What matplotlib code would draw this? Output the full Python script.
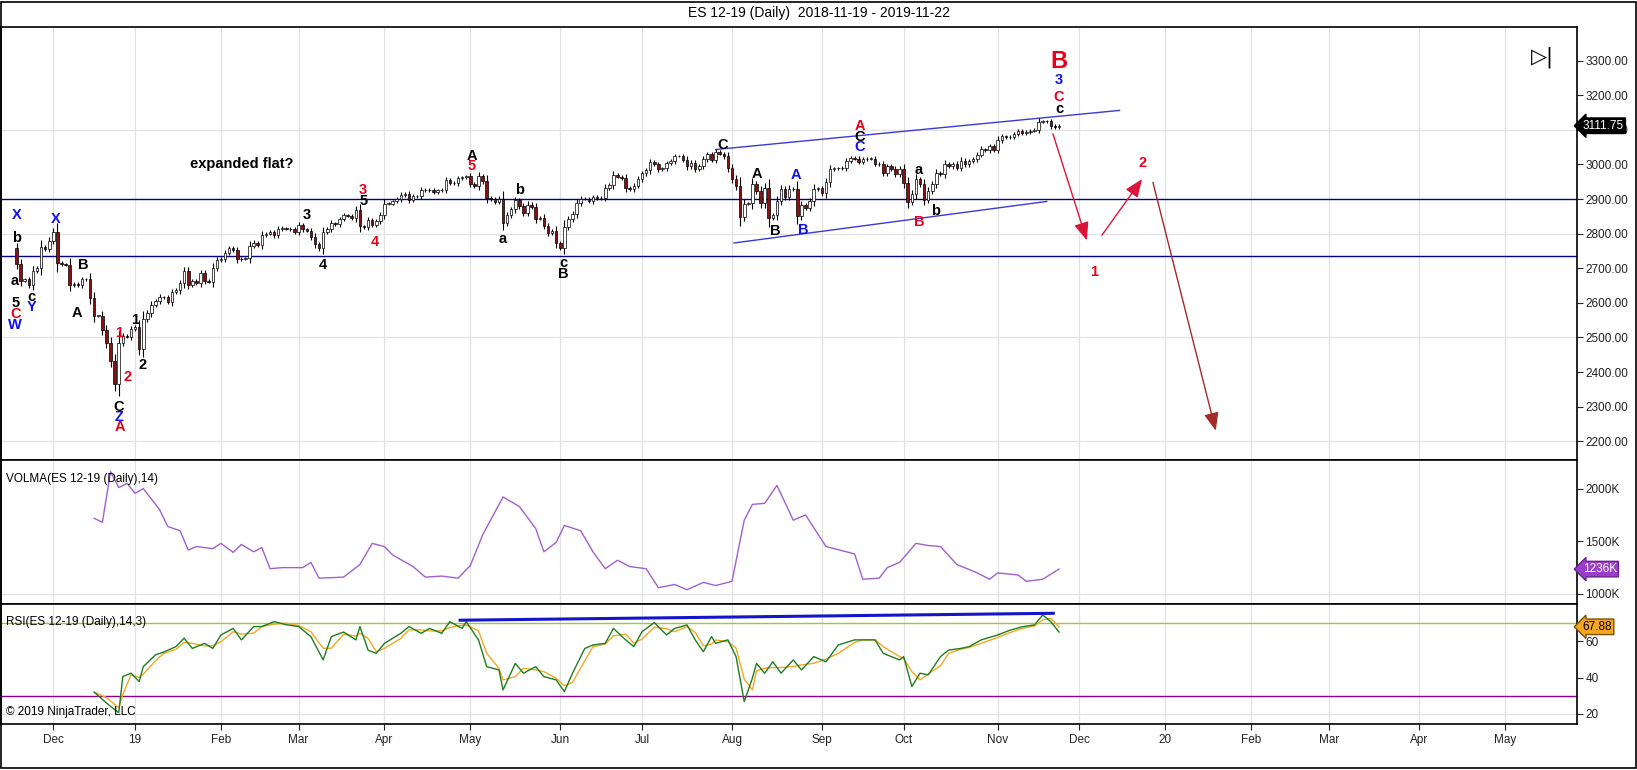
import numpy as np
import pandas as pd
import matplotlib
matplotlib.use("Agg")
import matplotlib.pyplot as plt

plt.rcParams['font.family'] = ['Liberation Sans', 'DejaVu Sans']

# ---- data ----
holidays = ["2018-11-22", "2018-12-25", "2019-01-01", "2019-01-21", "2019-02-18", "2019-04-19",
            "2019-05-27", "2019-07-04", "2019-09-02", "2019-11-28", "2019-12-25", "2020-01-01",
            "2020-01-20", "2020-02-17", "2020-04-10", "2020-05-25"]

closes = [
    # Nov 2018
    2712, 2664, 2668, 2652, 2692, 2700, 2762, 2756, 2780,
    # Dec
    2805, 2715, 2712, 2710, 2652, 2655, 2652, 2668, 2668, 2615, 2562, 2562, 2522, 2484, 2432,
    2365, 2485, 2505, 2502, 2524,
    # Jan 2019
    2530, 2468, 2552, 2570, 2594, 2604, 2617, 2616, 2603, 2630, 2636, 2656, 2691, 2653, 2663,
    2658, 2685, 2664, 2661, 2702, 2724,
    # Feb
    2727, 2745, 2758, 2752, 2726, 2728, 2729, 2765, 2774, 2766, 2796, 2800, 2805, 2795, 2813,
    2816, 2814, 2813, 2804,
    # Mar
    2824, 2812, 2809, 2791, 2769, 2758, 2804, 2812, 2830, 2828, 2842, 2853, 2852, 2844, 2869,
    2821, 2819, 2838, 2825, 2836, 2854,
    # Apr
    2887, 2887, 2893, 2899, 2912, 2915, 2898, 2908, 2908, 2927, 2925, 2927, 2920, 2925, 2927,
    2954, 2947, 2946, 2960, 2963, 2966,
    # May
    2944, 2938, 2966, 2952, 2904, 2900, 2891, 2901, 2832, 2854, 2870, 2896, 2880, 2860, 2884,
    2876, 2843, 2846, 2823, 2803, 2809, 2772,
    # Jun
    2759, 2819, 2841, 2858, 2888, 2901, 2900, 2894, 2906, 2902, 2904, 2932, 2941, 2969, 2965,
    2960, 2932, 2928, 2939, 2957,
    # Jul
    2974, 2983, 3006, 3000, 2986, 2989, 3003, 3010, 3024, 3024, 3014, 2994, 3005, 2987, 2995,
    3015, 3029, 3014, 3036, 3031, 3023, 2990,
    # Aug
    2959, 2937, 2849, 2886, 2888, 2943, 2924, 2888, 2931, 2845, 2853, 2894, 2928, 2906, 2930,
    2928, 2852, 2883, 2874, 2893, 2929, 2931,
    # Sep
    2916, 2948, 2986, 2989, 2989, 2990, 3010, 3019, 3017, 3008, 3015, 3016, 3016, 3002, 3001,
    2976, 2994, 2987, 2971, 2987,
    # Oct
    2945, 2892, 2915, 2957, 2943, 2898, 2924, 2943, 2975, 2971, 3001, 2994, 3002, 2991, 3011,
    3000, 3009, 3015, 3028, 3044, 3041, 3052, 3043,
    # Nov
    3070, 3081, 3078, 3080, 3088, 3096, 3090, 3094, 3097, 3100, 3123, 3125, 3124, 3111, 3107,
    3111.75,
]
first_open = 2758

volma_idx = [19, 21, 23, 25, 27, 29, 31, 35, 37, 40, 42, 44, 48, 50, 53, 55, 58, 60, 62, 65, 70,
             72, 74, 80, 84, 87, 90, 92, 97, 100, 104, 108, 111, 114, 119, 123, 127, 129, 132, 134,
             138, 141, 144, 147, 150, 154, 157, 161, 164, 168, 171, 175, 178, 180, 183, 186, 190,
             193, 198, 205, 207, 211, 213, 216, 220, 223, 226, 230, 235, 238, 240, 245, 247, 251, 255]
volma_val = [1718, 1680, 2161, 2010, 2050, 1955, 2000, 1800, 1640, 1600, 1417, 1450, 1430, 1480,
             1395, 1470, 1400, 1440, 1240, 1250, 1250, 1300, 1150, 1160, 1280, 1480, 1450, 1370,
             1260, 1160, 1170, 1150, 1270, 1560, 1920, 1830, 1620, 1400, 1490, 1650, 1600, 1400,
             1240, 1320, 1260, 1240, 1060, 1090, 1040, 1110, 1080, 1120, 1700, 1850, 1860, 2030,
             1700, 1750, 1450, 1380, 1140, 1150, 1250, 1300, 1480, 1460, 1450, 1280, 1200, 1140,
             1200, 1180, 1120, 1140, 1236]

rsi_idx = [19, 22, 25, 26, 28, 30, 31, 34, 36, 39, 41, 43, 46, 48, 50, 53, 55, 58, 60, 63, 66, 69,
           72, 75, 77, 80, 83, 84, 86, 88, 90, 94, 96, 99, 101, 104, 106, 109, 110, 113, 115, 118,
           119, 122, 124, 127, 129, 132, 134, 136, 139, 141, 144, 146, 149, 151, 153, 156, 159,
           161, 164, 166, 168, 170, 171, 174, 176, 178, 180, 181, 183, 185, 187, 190, 192, 195,
           198, 201, 205, 207, 210, 212, 216, 217, 219, 221, 223, 226, 228, 231, 233, 236, 240,
           243, 246, 249, 251, 253, 255]
rsi_val = [32, 26, 20.7, 40.6, 42.4, 37.8, 46, 52.5, 54, 57, 61.6, 56, 58.8, 56, 63.4, 67, 60.7,
           68, 68, 70.7, 69, 68, 62.5, 49.7, 62.5, 65, 60.7, 68, 55, 53.3, 58.8, 64.3, 68, 64.3,
           67, 64.3, 70.7, 67, 70.7, 60.7, 46, 44.2, 33.2, 47.8, 42.4, 46, 40.5, 38.7, 32.3, 42.4,
           56, 57.9, 58.8, 67, 60.7, 57, 65.2, 70.2, 63.4, 67, 68.9, 60.7, 54.2, 62.5, 58.8, 60.7,
           51.5, 26.8, 39.7, 47.8, 42.4, 48.7, 42.4, 49.7, 44.2, 51.5, 48.7, 57.9, 60.7, 60.7,
           60.7, 53.3, 49.7, 51.5, 35.1, 42.4, 41.5, 51.5, 55.1, 56, 57, 60.7, 63.4, 66, 67.9,
           68.9, 74.4, 70.7, 65]

month_labels = ["Dec", "19", "Feb", "Mar", "Apr", "May", "Jun", "Jul", "Aug", "Sep", "Oct", "Nov",
                "Dec", "20", "Feb", "Mar", "Apr", "May"]

# wave labels: (bar, price, text, colour, size)
K, R, B = "black", "#e8001c", "#1010ee"
wave_labels = [
    (0, 2855, "X", B, 10.5), (0, 2787, "b", K, 10.5), (-0.5, 2662, "a", K, 10.5),
    (-0.3, 2599, "5", K, 10.5), (-0.3, 2567, "C", R, 10.5), (-0.3, 2536, "W", B, 10.5),
    (3.6, 2618, "c", K, 10.5), (3.8, 2589, "Y", B, 10.5), (9.6, 2842, "X", B, 10.5),
    (16.4, 2710, "B", K, 10.5), (14.7, 2570, "A", K, 10.5), (25.1, 2512, "1", R, 10.5),
    (28.9, 2551, "1", K, 10.5), (27.1, 2385, "2", R, 10.5), (30.9, 2420, "2", K, 10.5),
    (25.1, 2300, "C", K, 10.5), (25.1, 2271, "Z", B, 10.5), (25.3, 2240, "A", R, 10.5),
    (70.9, 2855, "3", K, 10.5), (75, 2708, "4", K, 10.5), (84.8, 2925, "3", R, 10.5),
    (84.8, 2893, "5", K, 10.5), (87.7, 2777, "4", R, 10.5), (111.5, 3024, "A", K, 10.5),
    (111.3, 2995, "5", R, 10.5), (119, 2785, "a", K, 10.5), (123, 2925, "b", K, 10.5),
    (133.7, 2715, "c", K, 10.5), (133.7, 2683, "B", K, 10.5),
    (172.8, 3057, "C", K, 10.5), (181, 2972, "A", K, 10.5), (185.5, 2809, "B", K, 10.5),
    (190.7, 2968, "A", B, 10.5), (192.4, 2811, "B", B, 10.5), (206.3, 3110, "A", R, 10.5),
    (206.3, 3079, "C", K, 10.5), (206.3, 3051, "C", B, 10.5), (220.7, 2985, "a", K, 10.5),
    (220.7, 2835, "B", R, 10.5), (224.8, 2864, "b", K, 10.5),
    (255, 3296, "B", R, 17), (255, 3245, "3", B, 10.5), (255, 3195, "C", R, 10.5),
    (255, 3160, "c", K, 10.5),
    (263.7, 2690, "1", R, 10.5), (275.5, 3004, "2", R, 10.5),
]
upper_channel = [(171, 3043), (269.8, 3156)]
lower_channel = [(175.5, 2773), (252, 2893)]
h_levels = [2900, 2735]
arrows = [((253.3, 3096), (262, 2773), "#dc143c"),
          ((265.1, 2789), (275.7, 2964), "#dc143c"),
          ((277.8, 2956), (293.5, 2223), "#a52a2a")]
rsi_trend = [(108.5, 71.5), (253.6, 75.3)]

# ---- dates / bar positions ----
dates = pd.bdate_range("2018-11-19", "2020-06-15")
dates = dates[~dates.isin(pd.to_datetime(holidays))]
n = len(closes)
x = np.arange(n)
opens = np.r_[first_open, closes[:-1]]
closes_a = np.array(closes, dtype=float)
month_pos = [i for i in range(1, len(dates)) if dates[i].month != dates[i - 1].month]

fig = plt.figure(figsize=(16.37, 7.7), dpi=100)
W, H = 1637, 770
def ax_at(top, bot):
    return fig.add_axes([1 / W, 1 - bot / H, 1576 / W, (bot - top) / H])

ax_p = ax_at(27, 460)
ax_v = ax_at(460, 604)
ax_r = ax_at(604, 724)
xmin, xmax = -3.8, 381.7

for ax in (ax_p, ax_v, ax_r):
    ax.set_xlim(xmin, xmax)
    ax.yaxis.tick_right()
    ax.tick_params(axis="y", labelsize=8.5, length=4, pad=2, colors="#222222")
    ax.tick_params(axis="x", length=0, labelbottom=False)
    for s in ax.spines.values():
        s.set_linewidth(1.2)
    for mp in month_pos:
        ax.axvline(mp, color="#e2e2e2", lw=0.9, zorder=0)

# price panel
ax_p.set_ylim(2146, 3397)
ax_p.set_yticks(np.arange(2200, 3301, 100))
ax_p.set_yticklabels([f"{v:.2f}" for v in np.arange(2200, 3301, 100)])
for g in (2200, 2500, 2800, 3100):
    ax_p.axhline(g, color="#e2e2e2", lw=0.9, zorder=0)
for lv in h_levels:
    ax_p.axhline(lv, color="#00008b", lw=1.0, zorder=1)
for xs, ys in (zip(*upper_channel), zip(*lower_channel)):
    ax_p.plot(list(xs), list(ys), color="#3a3ad8", lw=1.0, zorder=1)

for i in range(n):
    o, c = opens[i], closes_a[i]
    hi = max(o, c) + 0.25 * abs(c - o) + 4
    lo = min(o, c) - 0.25 * abs(c - o) - 4
    ax_p.vlines(i, lo, hi, color="black", lw=0.8, zorder=3)
    col = "white" if c >= o else "#8b1010"
    ax_p.bar(i, max(abs(c - o), 1.5), bottom=min(o, c), width=0.62, color=col,
             edgecolor="black", linewidth=0.5, zorder=4)

for bx, py, t, col, fs in wave_labels:
    ax_p.text(bx, py, t, color=col, fontsize=fs, fontweight="bold", ha="center", va="center", zorder=5)
ax_p.text(55, 3002, "expanded flat?", fontsize=10.5, fontweight="bold", ha="center", va="center")

for (x0, y0), (x1, y1), col in arrows:
    ax_p.annotate("", xy=(x1, y1), xytext=(x0, y0),
                  arrowprops=dict(arrowstyle="-|>,head_length=1.1,head_width=0.45", color=col, lw=1.0))

ax_p.text(0.978, 0.93, "▷|", transform=ax_p.transAxes, fontsize=15, ha="center", va="center",
          family=["DejaVu Sans"])
ax_p.annotate(f"{closes[-1]:.2f}", xy=(1.0, closes[-1]), xycoords=("axes fraction", "data"),
              xytext=(4, 0), textcoords="offset points", fontsize=8.5, color="white", va="center",
              bbox=dict(boxstyle="larrow,pad=0.15", fc="black", ec="black"))

# volma panel
ax_v.set_ylim(905, 2271)
ax_v.set_yticks([1000, 1500, 2000])
ax_v.set_yticklabels(["1000K", "1500K", "2000K"])
ax_v.axhline(1000, color="#e2e2e2", lw=0.9, zorder=0)
ax_v.plot(volma_idx, volma_val, color="#a060d0", lw=1.0)
ax_v.text(0.003, 0.87, "VOLMA(ES 12-19 (Daily),14)", transform=ax_v.transAxes, fontsize=8.5,
          family=["Liberation Sans Narrow", "Liberation Sans"], va="center")
ax_v.annotate(f"{volma_val[-1]}K", xy=(1.0, volma_val[-1]), xycoords=("axes fraction", "data"),
              xytext=(4, 0), textcoords="offset points", fontsize=8.5, color="white", va="center",
              bbox=dict(boxstyle="larrow,pad=0.15", fc="#9a40c8", ec="#6a2090"))

# rsi panel
ax_r.set_ylim(14.5, 80.4)
ax_r.set_yticks([20, 40, 60])
ax_r.axhline(20, color="#e2e2e2", lw=0.9, zorder=0)
ax_r.axhline(70, color="#9acd32", lw=1.0)
ax_r.axhline(30, color="#8b008b", lw=1.0)
rsi_avg = pd.Series(rsi_val).rolling(2, min_periods=1).mean()
ax_r.plot(rsi_idx, rsi_avg, color="#f5a623", lw=1.0)
ax_r.plot(rsi_idx, rsi_val, color="#1e7d1e", lw=1.0)
ax_r.plot(*zip(*rsi_trend), color="#1414c8", lw=2.2)
ax_r.text(0.003, 0.85, "RSI(ES 12-19 (Daily),14,3)", transform=ax_r.transAxes, fontsize=8.5,
          family=["Liberation Sans Narrow", "Liberation Sans"], va="center")
ax_r.text(0.003, 0.05, "© 2019 NinjaTrader, LLC", transform=ax_r.transAxes, fontsize=8.5,
          family=["Liberation Sans Narrow", "Liberation Sans"], va="bottom")
ax_r.annotate("67.88", xy=(1.0, 67.88), xycoords=("axes fraction", "data"),
              xytext=(4, 0), textcoords="offset points", fontsize=8.5, color="black", va="center",
              bbox=dict(boxstyle="larrow,pad=0.15", fc="#f5a623", ec="#7a5000"))
ax_r.set_xticks(month_pos[:len(month_labels)])
ax_r.set_xticklabels(month_labels)
ax_r.tick_params(axis="x", length=4, labelbottom=True, labelsize=8.5, pad=3, colors="#222222")

fig.text(0.5, 1 - 13 / H, "ES 12-19 (Daily)  2018-11-19 - 2019-11-22", ha="center", va="center",
         fontsize=10)
fig.patches.append(plt.Rectangle((0.0005, 0.002), 0.999, 0.996, transform=fig.transFigure,
                                 fill=False, ec="black", lw=1.2))

fig.savefig("out.png", dpi=100)
